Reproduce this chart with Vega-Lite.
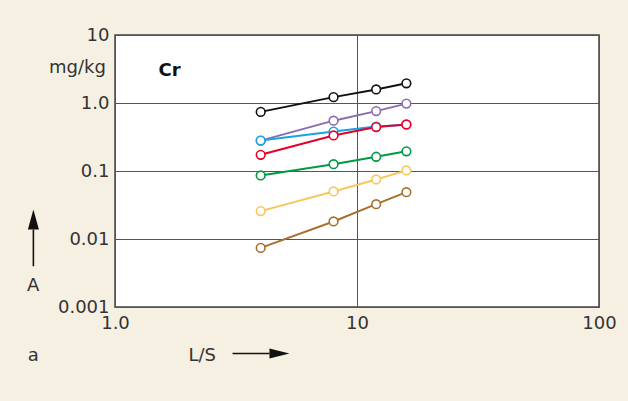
{
  "$schema": "https://vega.github.io/schema/vega-lite/v6.json",
  "width": 484,
  "height": 272,
  "autosize": {"type": "none"},
  "padding": {"left": 115, "top": 35, "right": 29, "bottom": 94},
  "background": "#f6f0e3",
  "config": {
    "view": {"fill": "white", "stroke": "#444444", "strokeWidth": 1.5},
    "axis": {
      "domain": false,
      "ticks": false,
      "grid": true,
      "gridColor": "#555555",
      "gridWidth": 1,
      "gridOpacity": 1,
      "labelFont": "DejaVu Sans",
      "labelFontSize": 18,
      "labelColor": "#333333",
      "labelFlush": false,
      "labelOverlap": false,
      "labelBound": false
    }
  },
  "data": {
    "values": [
      {"series": "s1", "ls": 4, "value": 0.74},
      {"series": "s1", "ls": 8, "value": 1.22},
      {"series": "s1", "ls": 12, "value": 1.58},
      {"series": "s1", "ls": 16, "value": 1.95},
      {"series": "s2", "ls": 4, "value": 0.28},
      {"series": "s2", "ls": 8, "value": 0.55},
      {"series": "s2", "ls": 12, "value": 0.76},
      {"series": "s2", "ls": 16, "value": 0.98},
      {"series": "s3", "ls": 4, "value": 0.28},
      {"series": "s3", "ls": 8, "value": 0.38},
      {"series": "s3", "ls": 12, "value": 0.45},
      {"series": "s3", "ls": 16, "value": 0.48},
      {"series": "s4", "ls": 4, "value": 0.173},
      {"series": "s4", "ls": 8, "value": 0.333},
      {"series": "s4", "ls": 12, "value": 0.443},
      {"series": "s4", "ls": 16, "value": 0.483},
      {"series": "s5", "ls": 4, "value": 0.086},
      {"series": "s5", "ls": 8, "value": 0.126},
      {"series": "s5", "ls": 12, "value": 0.162},
      {"series": "s5", "ls": 16, "value": 0.195},
      {"series": "s6", "ls": 4, "value": 0.0257},
      {"series": "s6", "ls": 8, "value": 0.05},
      {"series": "s6", "ls": 12, "value": 0.075},
      {"series": "s6", "ls": 16, "value": 0.102},
      {"series": "s7", "ls": 4, "value": 0.0074},
      {"series": "s7", "ls": 8, "value": 0.0181},
      {"series": "s7", "ls": 12, "value": 0.0325},
      {"series": "s7", "ls": 16, "value": 0.0488}
    ]
  },
  "layer": [
    {
      "mark": {"type": "line", "strokeWidth": 2},
      "encoding": {
        "x": {
          "field": "ls", "type": "quantitative", "title": null,
          "scale": {"type": "log", "domain": [1, 100], "nice": false},
          "axis": {"values": [1, 10, 100], "labelPadding": 7, "labelExpr": "datum.value == 1 ? '1.0' : format(datum.value, 'd')"}
        },
        "y": {
          "field": "value", "type": "quantitative", "title": null,
          "scale": {"type": "log", "domain": [0.001, 10], "nice": false},
          "axis": {"values": [0.001, 0.01, 0.1, 1, 10], "labelPadding": 6, "labelExpr": "datum.value == 1 ? '1.0' : format(datum.value, '~g')"}
        },
        "color": {
          "field": "series", "type": "nominal", "legend": null,
          "scale": {"domain": ["s1", "s2", "s3", "s4", "s5", "s6", "s7"],
                    "range": ["#111111", "#8a6db0", "#1aa3e0", "#e3002b", "#009a44", "#f7c75b", "#a8702e"]}
        },
        "detail": {"field": "series"}
      }
    },
    {
      "mark": {"type": "point", "shape": "circle", "filled": false, "fill": "white", "fillOpacity": 1, "opacity": 1, "size": 75, "strokeWidth": 1.6},
      "encoding": {
        "x": {"field": "ls", "type": "quantitative", "title": null},
        "y": {"field": "value", "type": "quantitative", "title": null},
        "stroke": {"field": "series", "type": "nominal", "legend": null,
          "scale": {"domain": ["s1", "s2", "s3", "s4", "s5", "s6", "s7"],
                    "range": ["#111111", "#8a6db0", "#1aa3e0", "#e3002b", "#009a44", "#f7c75b", "#a8702e"]}}
      }
    },
    {
      "data": {"values": [
        {"label": "mg/kg", "x": 0.70, "y": 2.78},
        {"label": "A", "x": 0.459, "y": 0.0017},
        {"label": "a", "x": 0.46, "y": 0.000158},
        {"label": "L/S", "x": 2.294, "y": 0.00016}
      ]},
      "mark": {"type": "text", "font": "DejaVu Sans", "fontSize": 18, "color": "#333333", "align": "center", "baseline": "alphabetic"},
      "encoding": {
        "x": {"field": "x", "type": "quantitative", "title": null},
        "y": {"field": "y", "type": "quantitative", "title": null},
        "text": {"field": "label"}
      }
    },
    {
      "data": {"values": [{"label": "Cr", "x": 1.68, "y": 2.455}]},
      "mark": {"type": "text", "font": "DejaVu Sans", "fontSize": 18, "fontWeight": "bold", "color": "#111111", "align": "center", "baseline": "alphabetic"},
      "encoding": {
        "x": {"field": "x", "type": "quantitative", "title": null},
        "y": {"field": "y", "type": "quantitative", "title": null},
        "text": {"field": "label"}
      }
    },
    {
      "data": {"values": [
        {"x": 0.46, "x2": 0.46, "y": 0.00398, "y2": 0.0138},
        {"x": 3.06, "x2": 4.35, "y": 0.000207, "y2": 0.000207}
      ]},
      "mark": {"type": "rule", "color": "#111111", "strokeWidth": 1.6},
      "encoding": {
        "x": {"field": "x", "type": "quantitative", "title": null},
        "x2": {"field": "x2"},
        "y": {"field": "y", "type": "quantitative", "title": null},
        "y2": {"field": "y2"}
      }
    },
    {
      "data": {"values": [{"x": 0.46, "y": 0.0194}]},
      "mark": {"type": "point", "shape": "M0,-1L0.55,1L-0.55,1Z", "filled": true, "color": "#111111", "opacity": 1, "size": 400},
      "encoding": {
        "x": {"field": "x", "type": "quantitative", "title": null},
        "y": {"field": "y", "type": "quantitative", "title": null}
      }
    },
    {
      "data": {"values": [{"x": 4.78, "y": 0.000207}]},
      "mark": {"type": "point", "shape": "M1,0L-1,0.5L-1,-0.5Z", "filled": true, "color": "#111111", "opacity": 1, "size": 400},
      "encoding": {
        "x": {"field": "x", "type": "quantitative", "title": null},
        "y": {"field": "y", "type": "quantitative", "title": null}
      }
    }
  ]
}
